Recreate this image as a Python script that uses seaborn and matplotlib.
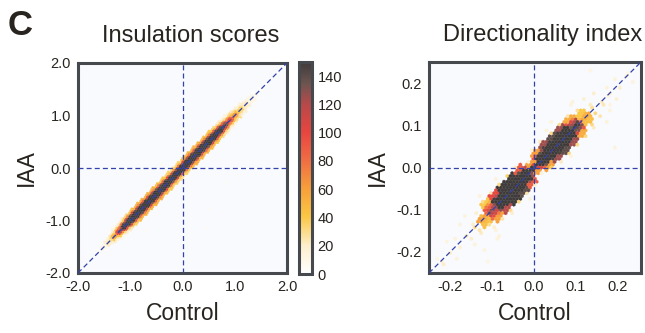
import numpy as np
import matplotlib
matplotlib.use("Agg")
import matplotlib.pyplot as plt
from matplotlib.colors import LinearSegmentedColormap
import seaborn as sns

# ---------------- data ----------------
# Insulation scores: band along the diagonal.
# rows = position along diagonal (mean of Control & IAA), cols = offset IAA-Control
ins_s = [-1.6, -1.5, -1.4, -1.3, -1.2, -1.1, -1.0, -0.9, -0.8, -0.7, -0.6, -0.5,
         -0.4, -0.3, -0.2, -0.1, 0.0, 0.1, 0.2, 0.3, 0.4, 0.5, 0.6, 0.7, 0.8,
         0.9, 1.0, 1.1, 1.2, 1.3, 1.4, 1.5]
ins_d = [-0.15, -0.10, -0.05, 0.0, 0.05, 0.10, 0.15]
ins_counts = [
    [0, 0, 3, 5, 3, 0, 0],
    [0, 3, 8, 12, 8, 3, 0],
    [0, 8, 20, 30, 20, 8, 0],
    [3, 20, 50, 70, 50, 20, 3],
    [10, 50, 110, 140, 110, 50, 10],
    [20, 90, 165, 190, 165, 90, 20],
    [35, 120, 195, 210, 195, 120, 35],
    [45, 125, 200, 220, 200, 125, 45],
    [50, 130, 205, 220, 205, 130, 50],
    [50, 130, 205, 220, 205, 130, 50],
    [50, 130, 205, 220, 205, 130, 50],
    [50, 130, 205, 220, 205, 130, 50],
    [45, 125, 205, 220, 205, 125, 45],
    [40, 120, 200, 220, 200, 120, 40],
    [35, 115, 200, 220, 200, 115, 35],
    [30, 110, 195, 220, 195, 110, 30],
    [35, 115, 200, 220, 200, 115, 35],
    [45, 125, 205, 220, 205, 125, 45],
    [50, 130, 205, 220, 205, 130, 50],
    [50, 130, 205, 220, 205, 130, 50],
    [50, 130, 205, 220, 205, 130, 50],
    [45, 125, 200, 215, 200, 125, 45],
    [40, 115, 190, 205, 190, 115, 40],
    [30, 100, 170, 190, 170, 100, 30],
    [20, 75, 130, 155, 130, 75, 20],
    [12, 48, 95, 115, 95, 48, 12],
    [7, 30, 60, 75, 60, 30, 7],
    [4, 17, 35, 45, 35, 17, 4],
    [2, 9, 20, 26, 20, 9, 2],
    [0, 5, 11, 14, 11, 5, 0],
    [0, 2, 6, 8, 6, 2, 0],
    [0, 0, 3, 4, 3, 0, 0],
]
ins_out_x = [-0.39, 0.85, -0.68, 0.50, 0.45]
ins_out_y = [0.08, -0.24, -1.18, -0.78, -1.15]
ins_out_c = [8, 6, 5, 5, 5]

# Directionality index: two lobes meeting at the origin
di_s = [-0.22, -0.20, -0.18, -0.16, -0.14, -0.12, -0.10, -0.08, -0.06, -0.04,
        -0.02, 0.00, 0.02, 0.04, 0.06, 0.08, 0.10, 0.12, 0.14, 0.16, 0.18,
        0.20, 0.22]
di_d = [-0.06, -0.045, -0.03, -0.015, 0.0, 0.015, 0.03, 0.045, 0.06]
di_counts = [
    [0, 0, 0, 20, 18, 0, 0, 0, 0],
    [0, 0, 15, 0, 20, 0, 0, 0, 0],
    [0, 0, 0, 18, 0, 15, 0, 0, 0],
    [0, 15, 0, 20, 22, 0, 0, 0, 0],
    [0, 0, 22, 25, 30, 20, 0, 15, 0],
    [15, 20, 30, 45, 60, 35, 20, 0, 0],
    [0, 25, 60, 110, 130, 90, 40, 20, 15],
    [20, 30, 120, 180, 200, 170, 100, 25, 0],
    [0, 32, 150, 210, 220, 210, 150, 30, 15],
    [15, 25, 140, 210, 220, 210, 150, 35, 0],
    [0, 20, 90, 190, 220, 190, 90, 20, 0],
    [0, 0, 15, 60, 200, 60, 15, 0, 0],
    [0, 15, 60, 180, 210, 180, 60, 15, 0],
    [0, 22, 125, 210, 220, 210, 125, 22, 0],
    [15, 30, 140, 215, 220, 215, 140, 30, 15],
    [0, 30, 125, 200, 215, 200, 125, 30, 0],
    [0, 32, 55, 130, 150, 120, 55, 25, 0],
    [0, 22, 32, 45, 58, 40, 28, 0, 15],
    [15, 0, 25, 32, 28, 22, 0, 18, 0],
    [0, 15, 0, 24, 22, 0, 20, 0, 0],
    [0, 0, 18, 0, 20, 15, 0, 0, 0],
    [0, 0, 0, 20, 0, 15, 0, 0, 0],
    [0, 0, 15, 0, 18, 0, 0, 0, 0],
]
di_out_x = [0.090, 0.138, 0.193, 0.222, 0.181, 0.038, -0.081, -0.117, -0.176,
            -0.231, -0.110, -0.086, -0.207, 0.174]
di_out_y = [0.157, 0.233, 0.048, 0.226, 0.150, 0.107, -0.164, -0.195, -0.131,
            -0.212, -0.219, -0.171, -0.178, 0.169]
di_out_c = [15, 12, 15, 12, 14, 15, 16, 14, 15, 12, 12, 15, 14, 12]

ins_ticks = [-2.0, -1.0, 0.0, 1.0, 2.0]
di_ticks = [-0.2, -0.1, 0.0, 0.1, 0.2]
cbar_ticks = [0, 20, 40, 60, 80, 100, 120, 140]


def band_points(s_vals, d_vals, table, step_s, step_d, sparse):
    s_vals = np.asarray(s_vals)
    d_vals = np.asarray(d_vals)
    ds = s_vals[1] - s_vals[0]
    dd = d_vals[1] - d_vals[0]
    xs, ys, cs = [], [], []
    for i, s in enumerate(s_vals):
        for j, d in enumerate(d_vals):
            c = table[i][j]
            if c == 0:
                continue
            if c < sparse:
                S, D = np.array([s]), np.array([d])
            else:
                ss = s - ds / 2 + step_s / 2 + np.arange(0, ds - 1e-12, step_s)
                dl = d - dd / 2 + step_d / 2 + np.arange(0, dd - 1e-12, step_d)
                S, D = np.meshgrid(ss, dl)
                S, D = S.ravel(), D.ravel()
            xs.append(S - D / 2)
            ys.append(S + D / 2)
            cs.append(np.full(S.shape, float(c)))
    return np.concatenate(xs), np.concatenate(ys), np.concatenate(cs)


# ---------------- style ----------------
sns.set_theme(style="white")
plt.rcParams["font.family"] = ["Liberation Sans", "DejaVu Sans"]
plt.rcParams["axes.unicode_minus"] = False
TXT = "#28241f"
SPINE = "#46494d"
LINE = "#3342a8"

cmap = LinearSegmentedColormap.from_list("heat", [
    (0.00, "#ffffff"), (0.13, "#fdefcf"), (0.27, "#fbc744"), (0.40, "#f7a03a"),
    (0.54, "#f06c44"), (0.67, "#e8453f"), (0.80, "#b8494a"), (0.90, "#6d5550"),
    (1.00, "#3f3b3b")])

fig = plt.figure(figsize=(6.45, 3.33), dpi=100)
W, H = 645, 333


def px_axes(x0, y0, x1, y1):
    return fig.add_axes([x0 / W, 1 - y1 / H, (x1 - x0) / W, (y1 - y0) / H])


ax1 = px_axes(78, 63, 287, 273)
cax = px_axes(299, 62, 312, 274)
ax2 = px_axes(429, 62, 641, 273)

# Insulation
x, y, c = band_points(ins_s, ins_d, ins_counts, 0.01, 0.01, 10)
x = np.concatenate([x, ins_out_x]); y = np.concatenate([y, ins_out_y])
c = np.concatenate([c, ins_out_c])
hb = ax1.hexbin(x, y, C=c, reduce_C_function=np.mean, gridsize=95,
                extent=(-2, 2, -2, 2), cmap=cmap, vmin=0, vmax=150, mincnt=1,
                linewidths=0.2)
ax1.set_xlim(-2, 2); ax1.set_ylim(-2, 2)

# Directionality
x, y, c = band_points(di_s, di_d, di_counts, 0.004, 0.003, 40)
x = np.concatenate([x, di_out_x]); y = np.concatenate([y, di_out_y])
c = np.concatenate([c, di_out_c])
ax2.hexbin(x, y, C=c, reduce_C_function=np.mean, gridsize=65,
           extent=(-0.25, 0.255, -0.25, 0.252), cmap=cmap, vmin=0, vmax=150,
           mincnt=1, linewidths=0.2)
ax2.set_xlim(-0.25, 0.255); ax2.set_ylim(-0.25, 0.252)

for ax, ticks in [(ax1, ins_ticks), (ax2, di_ticks)]:
    ax.set_facecolor("#f8fafd")
    ax.axvline(0, color=LINE, lw=0.9, ls=(0, (4, 2.5)), zorder=3)
    ax.axhline(0, color=LINE, lw=0.9, ls=(0, (4, 2.5)), zorder=3)
    ax.plot([0, 1], [0, 1], transform=ax.transAxes, color=LINE, lw=0.9,
            ls=(0, (4, 2.5)), zorder=3)
    ax.set_xticks(ticks); ax.set_yticks(ticks)
    ax.set_xticklabels(["{:.1f}".format(t) for t in ticks])
    ax.set_yticklabels(["{:.1f}".format(t) for t in ticks])
    ax.tick_params(length=0, labelsize=10.5, colors=TXT, pad=5)
    for sp in ax.spines.values():
        sp.set_visible(True)
        sp.set_color(SPINE)
        sp.set_linewidth(2.2)
    ax.set_xlabel("Control", fontsize=16.5, color=TXT, labelpad=6)
    ax.set_ylabel("IAA", fontsize=16.5, color=TXT, labelpad=6)

cb = fig.colorbar(hb, cax=cax)
cb.set_ticks(cbar_ticks)
cb.ax.tick_params(length=0, labelsize=10.5, colors=TXT, pad=4)
cb.outline.set_edgecolor(SPINE)
cb.outline.set_linewidth(2.2)

fig.text(191 / W, 1 - 42 / H, "Insulation scores", ha="center", va="baseline",
         fontsize=17, color=TXT)
fig.text(543 / W, 1 - 41 / H, "Directionality index", ha="center",
         va="baseline", fontsize=17, color=TXT)
fig.text(8 / W, 1 - 35 / H, "C", ha="left", va="baseline", fontsize=25,
         fontweight="bold", color=TXT)

fig.savefig("out.png", dpi=100, facecolor="white")
